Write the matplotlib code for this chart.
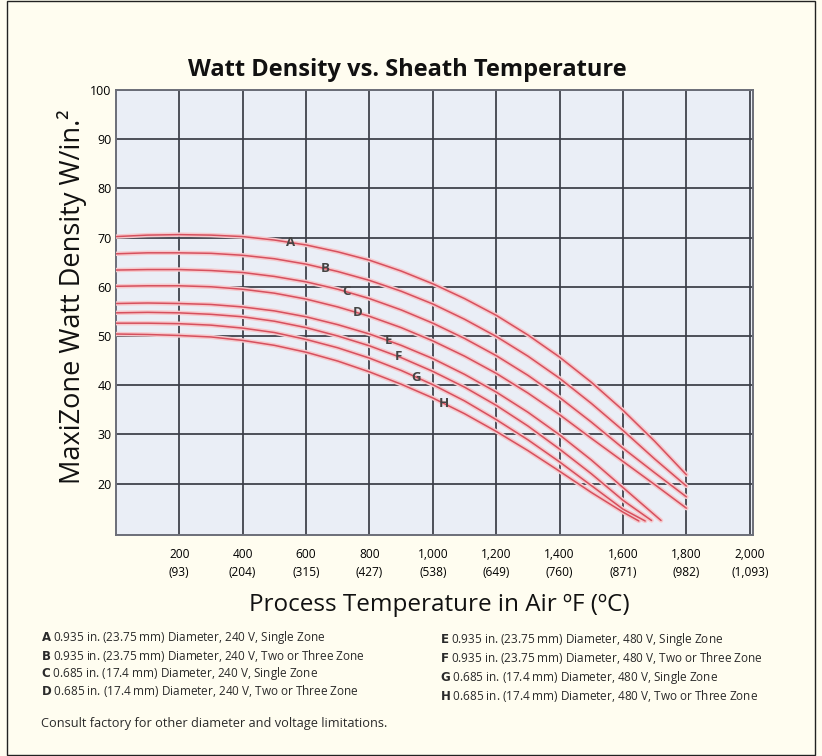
import matplotlib.pyplot as plt
import numpy as np

plt.rcParams['font.family'] = ['Open Sans', 'DejaVu Sans']

# process temperature (degF) and watt density (W/in^2)
temps_upper = [0, 100, 200, 300, 400, 500, 600, 700, 800, 900,
               1000, 1100, 1200, 1300, 1400, 1500, 1600, 1700, 1800]
curve_a = [70.2, 70.5, 70.6, 70.5, 70.2, 69.5, 68.5, 67.1, 65.4, 63.2,
           60.6, 57.6, 54.2, 50.2, 45.7, 40.6, 34.9, 28.6, 21.8]
curve_b = [66.7, 66.9, 66.9, 66.8, 66.4, 65.7, 64.6, 63.1, 61.3, 59.1,
           56.5, 53.4, 49.9, 45.9, 41.4, 36.3, 30.8, 25.0, 19.5]
curve_c = [63.4, 63.5, 63.5, 63.3, 62.9, 62.1, 61.0, 59.5, 57.6, 55.3,
           52.6, 49.5, 46.0, 42.0, 37.5, 32.5, 27.2, 22.2, 17.3]
curve_d = [60.1, 60.2, 60.2, 60.0, 59.5, 58.7, 57.5, 55.9, 54.0, 51.7,
           49.0, 45.9, 42.4, 38.4, 34.0, 29.2, 24.5, 19.8, 15.0]

temps_e = [0, 100, 200, 300, 400, 500, 600, 700, 800, 900,
           1000, 1100, 1200, 1300, 1400, 1500, 1600, 1720]
curve_e = [56.6, 56.7, 56.6, 56.4, 55.9, 55.1, 53.9, 52.3, 50.4, 48.1,
           45.4, 42.2, 38.6, 34.5, 29.9, 24.8, 19.2, 12.5]
temps_f = [0, 100, 200, 300, 400, 500, 600, 700, 800, 900,
           1000, 1100, 1200, 1300, 1400, 1500, 1600, 1690]
curve_f = [54.7, 54.8, 54.7, 54.4, 53.9, 53.0, 51.7, 50.0, 48.0, 45.6,
           42.8, 39.6, 35.9, 31.7, 27.0, 22.0, 16.6, 12.5]
temps_g = [0, 100, 200, 300, 400, 500, 600, 700, 800, 900,
           1000, 1100, 1200, 1300, 1400, 1500, 1600, 1670]
curve_g = [52.6, 52.6, 52.5, 52.2, 51.6, 50.7, 49.3, 47.6, 45.5, 43.0,
           40.1, 36.8, 33.0, 28.9, 24.4, 19.6, 14.8, 12.4]
temps_h = [0, 100, 200, 300, 400, 500, 600, 700, 800, 900,
           1000, 1100, 1200, 1300, 1400, 1500, 1600, 1650]
curve_h = [50.4, 50.3, 50.1, 49.8, 49.1, 48.1, 46.7, 44.9, 42.7, 40.2,
           37.4, 34.2, 30.6, 26.7, 22.5, 18.2, 14.2, 12.4]

letters = ['A', 'B', 'C', 'D', 'E', 'F', 'G', 'H']
label_temps = [552, 662, 726, 763, 860, 893, 947, 1034]

x_ticks = [200, 400, 600, 800, 1000, 1200, 1400, 1600, 1800, 2000]
x_tick_labels = ['200\n(93)', '400\n(204)', '600\n(315)', '800\n(427)',
                 '1,000\n(538)', '1,200\n(649)', '1,400\n(760)',
                 '1,600\n(871)', '1,800\n(982)', '2,000\n(1,093)']
y_ticks = [20, 30, 40, 50, 60, 70, 80, 90, 100]

notes_left = [('A', '0.935 in. (23.75 mm) Diameter, 240 V, Single Zone'),
              ('B', '0.935 in. (23.75 mm) Diameter, 240 V, Two or Three Zone'),
              ('C', '0.685 in. (17.4 mm) Diameter, 240 V, Single Zone'),
              ('D', '0.685 in. (17.4 mm) Diameter, 240 V, Two or Three Zone')]
notes_right = [('E', '0.935 in. (23.75 mm) Diameter, 480 V, Single Zone'),
               ('F', '0.935 in. (23.75 mm) Diameter, 480 V, Two or Three Zone'),
               ('G', '0.685 in. (17.4 mm) Diameter, 480 V, Single Zone'),
               ('H', '0.685 in. (17.4 mm) Diameter, 480 V, Two or Three Zone')]

bg = '#fffdf0'
grid_col = '#3b3e48'
red = '#d6505e'

fig = plt.figure(figsize=(8.22, 7.56), dpi=100, facecolor=bg)
ax = fig.add_axes([0.141, 0.292, 0.775, 0.589])
ax.set_facecolor('#eaeef6')

# grid
ax.set_xticks(x_ticks)
ax.set_yticks(y_ticks)
ax.grid(True, color=grid_col, linewidth=1.4, alpha=0.9)
ax.set_axisbelow(True)
for s in ax.spines.values():
    s.set_color('#6b6e78')
    s.set_linewidth(1.4)

series = [(temps_upper, curve_a), (temps_upper, curve_b), (temps_upper, curve_c),
          (temps_upper, curve_d), (temps_e, curve_e), (temps_f, curve_f),
          (temps_g, curve_g), (temps_h, curve_h)]
for xs, ys in series:
    ax.plot(xs, ys, color='#f6c8cc', linewidth=3.2, solid_capstyle='round', zorder=3)
for xs, ys in series:
    ax.plot(xs, ys, color=red, linewidth=1.1, solid_capstyle='round', zorder=4)

for (xs, ys), letter, lt in zip(series, letters, label_temps):
    ly = np.interp(lt, xs, ys)
    ax.text(lt, ly, letter, ha='center', va='center', fontsize=9.5,
            fontweight='bold', color='#444444', zorder=5)

ax.set_xlim(0, 2010)
ax.set_ylim(9.5, 100)
ax.set_xticklabels(x_tick_labels, fontsize=8.6, linespacing=1.5)
ax.set_yticklabels([str(v) for v in y_ticks], fontsize=9)
ax.tick_params(axis='x', length=0, pad=9)
ax.tick_params(axis='y', length=0, pad=3)

fig.text(0.495, 0.908, 'Watt Density vs. Sheath Temperature', ha='center',
         va='center', fontsize=17, fontweight='bold', color='#111111')
fig.text(0.535, 0.2, 'Process Temperature in Air ºF (ºC)', ha='center',
         va='center', fontsize=17.5, color='#111111')
fig.text(0.088, 0.608, 'MaxiZone Watt Density W/in.²', ha='center',
         va='center', rotation=90, fontsize=19.5, color='#111111')

left_rows = [638, 656, 674, 691]
right_rows = [640, 658, 677, 696]
for (letter, txt), row in zip(notes_left, left_rows):
    fig.text(41 / 822, 1 - row / 756, r'$\bf{' + letter + '}$ ' + txt,
             fontsize=8.5, va='center', color='#2a2a2a')
for (letter, txt), row in zip(notes_right, right_rows):
    fig.text(440 / 822, 1 - row / 756, r'$\bf{' + letter + '}$ ' + txt,
             fontsize=8.5, va='center', color='#2a2a2a')
fig.text(41 / 822, 1 - 723 / 756,
         'Consult factory for other diameter and voltage limitations.',
         fontsize=9.2, va='center', color='#2a2a2a')

# frame around the page
fig.patches.append(plt.Rectangle((7 / 822, 1 / 756), 808 / 822, 754 / 756,
                                 transform=fig.transFigure, fill=False,
                                 edgecolor='#222222', linewidth=1.0))

fig.savefig('out.png', dpi=100, facecolor=bg)
